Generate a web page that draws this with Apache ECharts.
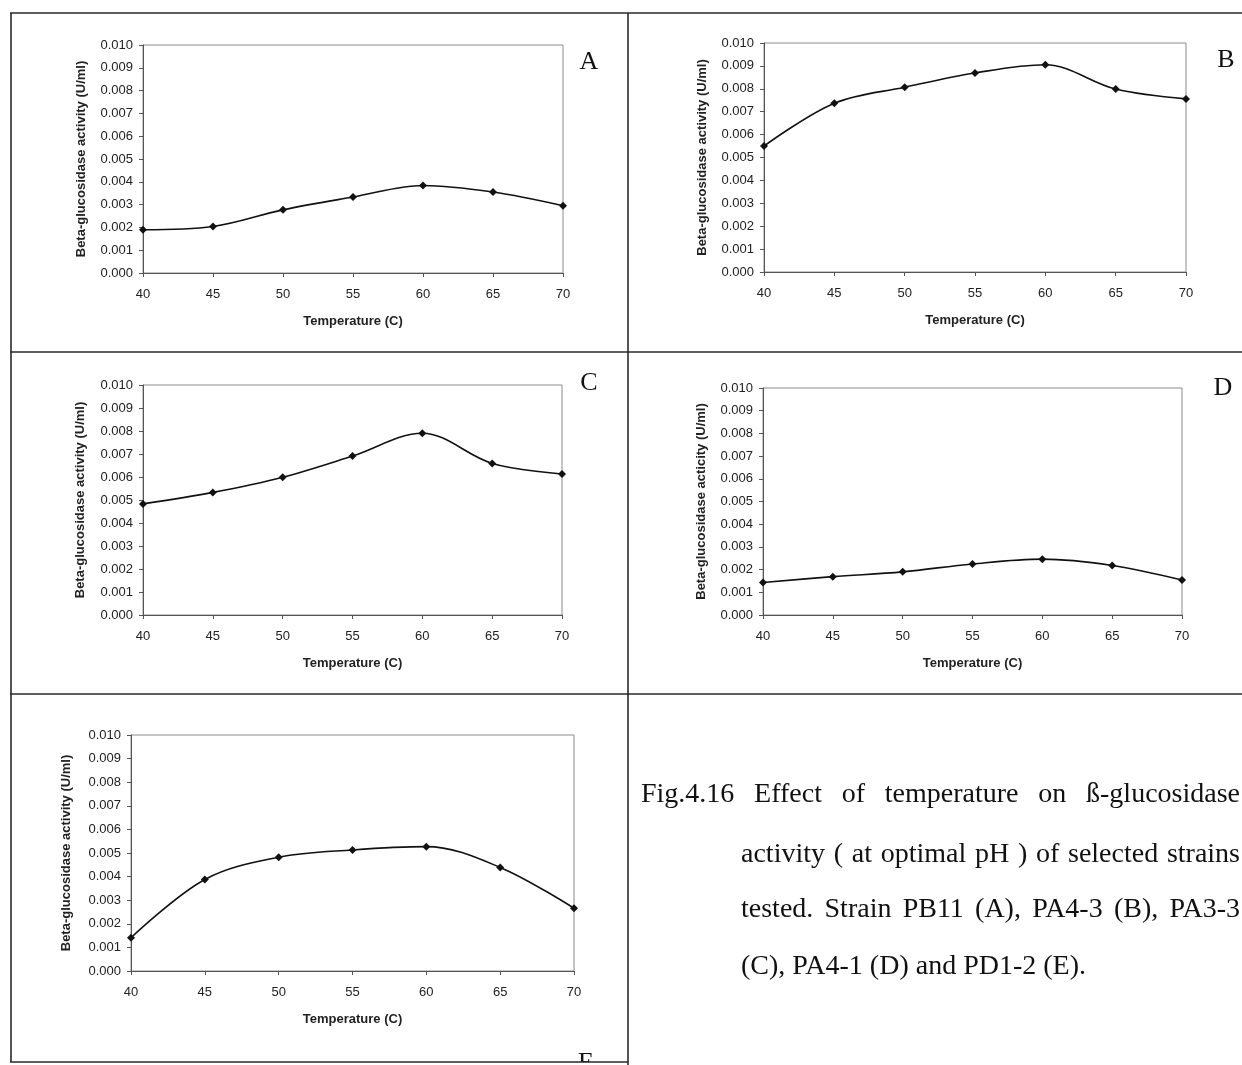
<!DOCTYPE html>
<html>
<head>
<meta charset="utf-8">
<script src="https://cdn.jsdelivr.net/npm/echarts@6/dist/echarts.min.js"></script>
<style>
html,body{margin:0;padding:0;background:#fff;}
#chart{width:1242px;height:1065px;}
</style>
</head>
<body>
<div id="chart"></div>
<script>
// ---- data ----
const temperatures = [40, 45, 50, 55, 60, 65, 70];
const activityA = [0.0019, 0.00204, 0.00277, 0.00333, 0.00384, 0.00355, 0.00295];
const activityB = [0.0055, 0.00737, 0.00807, 0.00869, 0.00905, 0.00799, 0.00756];
const activityC = [0.00483, 0.00533, 0.00599, 0.00691, 0.0079, 0.00659, 0.00613];
const activityD = [0.00143, 0.00169, 0.0019, 0.00225, 0.00246, 0.00218, 0.00154];
const activityE = [0.00141, 0.00388, 0.00482, 0.00513, 0.00527, 0.00439, 0.00266];
const panelLetters = ['A', 'B', 'C', 'D', 'E'];
const yTitles = [
  'Beta-glucosidase activity (U/ml)',
  'Beta-glucosidase activity (U/ml)',
  'Beta-glucosidase activity (U/ml)',
  'Beta-glucosidase acticity (U/ml)',
  'Beta-glucosidase activity (U/ml)'
];
const xTitle = 'Temperature (C)';
const captionLines = [
  'Fig.4.16 Effect of temperature on \u00DF-glucosidase',
  'activity ( at optimal pH ) of selected strains',
  'tested. Strain PB11 (A), PA4-3 (B), PA3-3',
  '(C), PA4-1 (D) and PD1-2 (E).'
];

const seriesData = [activityA, activityB, activityC, activityD, activityE];

// ---- layout (pixels) ----
const grids = [
  {left: 143, top: 45, width: 420, height: 228},
  {left: 764, top: 43, width: 422, height: 229},
  {left: 143, top: 385, width: 419, height: 230},
  {left: 763, top: 388, width: 419, height: 227},
  {left: 131, top: 735, width: 443, height: 236}
];
const yNameGaps = [55, 55, 56, 55, 58];
const letterPos = [[589, 62], [1226, 60], [589, 383], [1223, 388], [586, 1063]];

const sans = '"Liberation Sans", Arial, sans-serif';
const serif = '"Liberation Serif", "Times New Roman", serif';

const option = {
  backgroundColor: '#fff',
  animation: false,
  grid: grids.map(g => Object.assign({show: true, borderColor: '#8c8c8c', borderWidth: 1, backgroundColor: 'transparent'}, g)),
  xAxis: grids.map((g, i) => ({
    type: 'value', gridIndex: i, min: 40, max: 70, interval: 5,
    name: xTitle, nameLocation: 'middle', nameGap: 42,
    nameTextStyle: {fontFamily: sans, fontWeight: 'bold', fontSize: 13, color: '#222'},
    axisLine: {show: true, onZero: false, lineStyle: {color: '#555', width: 1}},
    axisTick: {show: true, length: 4, lineStyle: {color: '#555'}},
    axisLabel: {fontFamily: sans, fontSize: 13, color: '#222', margin: 15},
    splitLine: {show: false}
  })),
  yAxis: grids.map((g, i) => ({
    type: 'value', gridIndex: i, min: 0, max: 0.01, interval: 0.001,
    name: yTitles[i], nameLocation: 'middle', nameGap: yNameGaps[i], nameRotate: 90,
    nameTextStyle: {fontFamily: sans, fontWeight: 'bold', fontSize: 13, color: '#222'},
    axisLine: {show: true, lineStyle: {color: '#555', width: 1}},
    axisTick: {show: true, length: 4, lineStyle: {color: '#555'}},
    axisLabel: {fontFamily: sans, fontSize: 13, color: '#222', margin: 10,
      formatter: v => v.toFixed(3)},
    splitLine: {show: false}
  })),
  series: seriesData.map((d, i) => ({
    type: 'line', xAxisIndex: i, yAxisIndex: i,
    data: temperatures.map((t, k) => [t, d[k]]),
    smooth: 0.35,
    symbol: 'diamond', symbolSize: 8,
    lineStyle: {color: '#111', width: 1.6},
    itemStyle: {color: '#111'}
  })),
  graphic: []
};

const g = option.graphic;
const border = {stroke: '#2a2a2a', lineWidth: 1.6};
function hline(x1, x2, y) { g.push({type: 'line', z: 10, shape: {x1: x1, y1: y, x2: x2, y2: y}, style: border, silent: true}); }
function vline(x, y1, y2) { g.push({type: 'line', z: 10, shape: {x1: x, y1: y1, x2: x, y2: y2}, style: border, silent: true}); }

// panel letters
panelLetters.forEach((L, i) => {
  g.push({type: 'text', z: 5, x: letterPos[i][0], y: letterPos[i][1],
    style: {text: L, font: '26px ' + serif, fill: '#111', align: 'center', verticalAlign: 'middle'}, silent: true});
});
// white strip below the bottom rule (the E letter is cut there)
g.push({type: 'rect', z: 8, shape: {x: 540, y: 1062, width: 90, height: 4}, style: {fill: '#fff'}, silent: true});

hline(10, 1242, 13);
hline(10, 1242, 352);
hline(10, 1242, 694);
hline(10, 628, 1062);
vline(11, 13, 1062);
vline(628, 13, 1065);

// caption (justified like the source)
const capFontSize = 28;
const capFont = capFontSize + 'px ' + serif;
const mctx = document.createElement('canvas').getContext('2d');
mctx.font = capFont;
const capBaselines = [805, 865, 920, 977];
const capStarts = [641, 741, 741, 741];
const capRight = 1240;
captionLines.forEach((line, k) => {
  const y = capBaselines[k] - 10;
  if (k === captionLines.length - 1) {
    g.push({type: 'text', x: capStarts[k], y: y, style: {text: line, font: capFont, fill: '#111', align: 'left', verticalAlign: 'middle'}, silent: true});
    return;
  }
  const words = line.split(' ');
  const widths = words.map(w => mctx.measureText(w).width);
  const total = widths.reduce((a, b) => a + b, 0);
  const gap = (capRight - capStarts[k] - total) / (words.length - 1);
  let x = capStarts[k];
  words.forEach((w, j) => {
    g.push({type: 'text', x: x, y: y, style: {text: w, font: capFont, fill: '#111', align: 'left', verticalAlign: 'middle'}, silent: true});
    x += widths[j] + gap;
  });
});

const chart = echarts.init(document.getElementById('chart'), null, {renderer: 'canvas'});
chart.setOption(option);
</script>
</body>
</html>
